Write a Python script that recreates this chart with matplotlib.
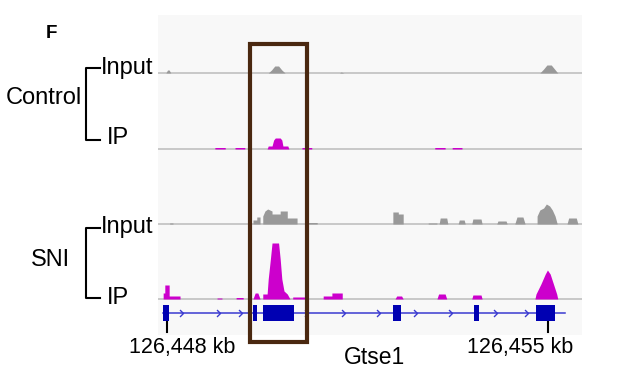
import matplotlib
matplotlib.use("Agg")
import matplotlib.pyplot as plt
from matplotlib.patches import Rectangle
from matplotlib.path import Path

plt.rcParams['font.family'] = ['Liberation Sans', 'DejaVu Sans']

# ---------------- data (x = kb offset from 126,448 kb; h = signal height) ----------------
REF_KB = 126448
tick_kb = [126448, 126455]
tick_labels = ["126,448 kb", "126,455 kb"]
gene_name = "Gtse1"

ctrl_input_x = [-0.17, -0.02, 0.01, 0.04, 0.07, 1.86, 1.92, 1.98, 2.05, 2.11, 2.17,
                3.17, 3.20, 3.25, 6.85, 6.92, 6.98, 7.06, 7.12, 7.18, 7.63]
ctrl_input_h = [0, 0, 3, 3, 0, 0, 3, 7, 7, 3, 0,
                0, 1, 0, 0, 4, 8, 8, 4, 0, 0]

ctrl_ip_x = [-0.17, 0.88, 0.88, 1.07, 1.07, 1.25, 1.25, 1.43, 1.43, 1.84, 1.86, 1.93,
             1.96, 1.99, 2.08, 2.11, 2.13, 2.22, 2.24, 2.48, 2.48, 2.66, 2.66,
             4.92, 4.92, 5.11, 5.11, 5.24, 5.24, 5.42, 5.42, 7.63]
ctrl_ip_h = [0, 0, 1.5, 1.5, 0, 0, 1.5, 1.5, 0, 0, 3, 3,
             9, 11, 11, 9, 3, 3, 0, 0, 1.5, 1.5, 0,
             0, 1.5, 1.5, 0, 0, 1.5, 1.5, 0, 0]

sni_input_x = [-0.17, 0.05, 0.05, 0.11, 0.11, 1.58, 1.58, 1.65, 1.65, 1.71, 1.71,
               1.76, 1.76, 1.80, 1.85, 1.93, 1.93, 2.08, 2.08, 2.21, 2.21, 2.39, 2.39,
               2.57, 2.57, 2.76, 2.76, 4.15, 4.15, 4.25, 4.25, 4.34, 4.34,
               4.80, 4.80, 4.96, 4.96, 5.00, 5.02, 5.14, 5.16, 5.35, 5.37, 5.46, 5.48,
               5.60, 5.62, 5.77, 5.79, 6.06, 6.08, 6.23, 6.25, 6.39, 6.43, 6.54, 6.58,
               6.80, 6.80, 6.85, 6.92, 6.97, 7.03, 7.08, 7.13, 7.17,
               7.35, 7.38, 7.52, 7.55, 7.63]
sni_input_h = [0, 0, 1, 1, 0, 0, 4, 4, 7, 7, 0,
               0, 8, 13, 15, 13, 10, 10, 13, 13, 6, 6, 0,
               0, 1.5, 1.5, 0, 0, 12, 12, 10, 10, 0,
               0, 1, 1, 0, 0, 6, 6, 0, 0, 4, 4, 0,
               0, 5, 5, 0, 0, 3, 3, 0, 0, 7, 7, 0,
               0, 8, 14, 16, 20, 18, 14, 8, 0,
               0, 6, 6, 0, 0]

sni_ip_x = [-0.17, -0.07, -0.07, -0.04, -0.04, 0.04, 0.04, 0.24, 0.24,
            0.92, 0.92, 1.01, 1.01, 1.27, 1.27, 1.40, 1.40,
            1.58, 1.62, 1.67, 1.71, 1.76, 1.76, 1.84, 1.86, 1.90, 1.93, 2.05,
            2.08, 2.11, 2.15, 2.21, 2.26, 2.31, 2.31, 2.57, 2.57,
            2.87, 2.87, 3.03, 3.03, 3.22, 3.22, 4.19, 4.22, 4.31, 4.34,
            4.96, 4.99, 5.11, 5.14, 5.60, 5.62, 5.77, 5.79,
            6.76, 6.78, 6.87, 6.95, 6.99, 7.04, 7.10, 7.16, 7.18, 7.63]
sni_ip_h = [0, 0, 6, 6, 14, 14, 3, 3, 0,
            0, 1, 1, 0, 0, 1.5, 1.5, 0,
            0, 6, 6, 0, 0, 5, 5, 20, 40, 56, 56,
            40, 20, 8, 5, 0, 0, 2, 2, 0,
            0, 3, 3, 6, 6, 0, 0, 3, 3, 0,
            0, 5, 5, 0, 0, 4, 4, 0,
            0, 5, 15, 25, 29, 25, 15, 5, 0, 0]

gene_start, gene_end = -0.07, 7.31
exon_start = [-0.07, 1.58, 1.76, 4.15, 5.64, 6.78]
exon_end = [0.04, 1.65, 2.33, 4.30, 5.73, 7.13]
arrow_x = [0.29, 0.97, 1.38, 2.59, 3.27, 3.91, 4.59, 5.24, 6.06, 6.63]

highlight_start, highlight_end = 1.52, 2.57

# ---------------- layout ----------------
W, H = 641, 380
fig = plt.figure(figsize=(W / 100, H / 100), dpi=100)
fig.patch.set_facecolor('white')

def fx(x):
    return x / W

def fy(y):
    return 1 - y / H

ax = fig.add_axes([fx(158), fy(335), fx(582) - fx(158), fy(15) - fy(335)])
ax.set_xlim(-0.165, 7.625)
ax.set_ylim(335, 15)
ax.set_facecolor('#f8f8f8')
for s in ax.spines.values():
    s.set_visible(False)
ax.set_xticks([])
ax.set_yticks([])

GRAY = '#999999'
MAG = '#cc00cc'
BLUE = '#0000b2'

tracks = [
    (ctrl_input_x, ctrl_input_h, 73, GRAY),
    (ctrl_ip_x, ctrl_ip_h, 149, MAG),
    (sni_input_x, sni_input_h, 224, GRAY),
    (sni_ip_x, sni_ip_h, 299, MAG),
]
for xs, hs, base, col in tracks:
    ax.axhline(base, color='#c4c4c4', lw=1.3, zorder=1)
    ax.fill_between(xs, base, [base - h for h in hs], color=col, lw=0, zorder=2)

# gene model
gy = 313
ax.plot([gene_start, gene_end], [gy, gy], color='#3a3ad0', lw=1.1, zorder=3)
chev = Path([(-1, 1), (0, 0), (-1, -1)], [Path.MOVETO, Path.LINETO, Path.LINETO])
ax.plot(arrow_x, [gy] * len(arrow_x), ls='none', marker=chev, markersize=5,
        markerfacecolor='none', markeredgecolor='#3a3ad0', markeredgewidth=1.0, zorder=3)
ax.broken_barh([(s, e - s) for s, e in zip(exon_start, exon_end)], (304.5, 16),
               facecolor=BLUE, edgecolor='none', zorder=4)

# coordinate ticks
label_offsets = [15, -28]
for t, lab, off in zip(tick_kb, tick_labels, label_offsets):
    xk = t - REF_KB
    ax.plot([xk, xk], [322, 332], color='black', lw=1.5, zorder=5)
    ax.annotate(lab, xy=(xk, 348), xytext=(off, 0), textcoords='offset pixels',
                ha='center', va='center', fontsize=15.5, annotation_clip=False)
ax.text(3.82, 357, gene_name, ha='center', va='center', fontsize=16.5)

# highlight box
ax.add_patch(Rectangle((highlight_start, 43.5), highlight_end - highlight_start, 341.5 - 43.5,
                       fill=False, edgecolor='#4a2810', lw=3, clip_on=False, zorder=6))

# left labels
fig.text(fx(51), fy(33.5), "F", fontsize=13.5, fontweight='bold', ha='center', va='center')
fig.text(fx(82), fy(98), "Control", fontsize=17, ha='right', va='center')
fig.text(fx(70), fy(260), "SNI", fontsize=17, ha='right', va='center')
for top, bot, yin, yip in [(68, 140, 68, 138), (228, 298, 227, 298)]:
    fig.add_artist(plt.Line2D([fx(100), fx(86), fx(86), fx(100)],
                              [fy(top), fy(top), fy(bot), fy(bot)], color='black', lw=1.5))
    fig.text(fx(101), fy(yin), "Input", fontsize=17, ha='left', va='center')
    fig.text(fx(107), fy(yip), "IP", fontsize=17, ha='left', va='center')

fig.savefig('out.png', dpi=100)
